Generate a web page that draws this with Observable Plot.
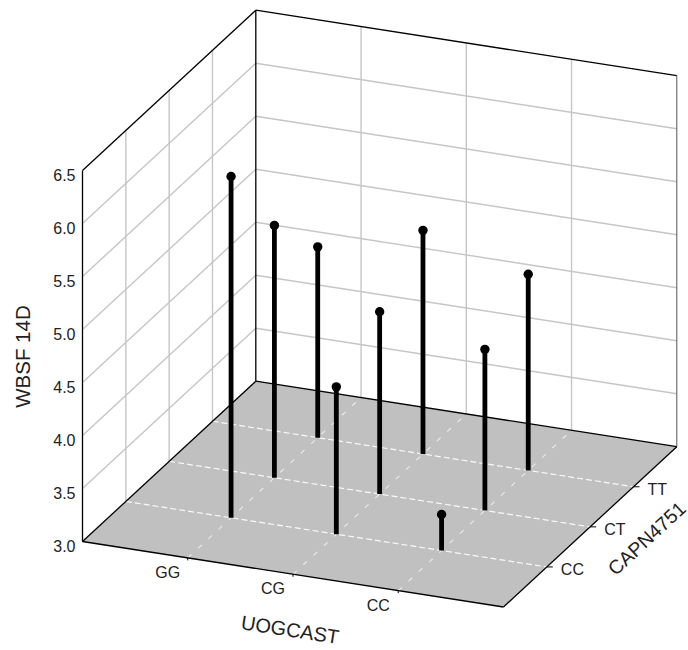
<!DOCTYPE html>
<html>
<head>
<meta charset="utf-8">
<script src="https://cdn.jsdelivr.net/npm/d3@7"></script>
<script src="https://cdn.jsdelivr.net/npm/@observablehq/plot@0.6"></script>
<style>html,body{margin:0;padding:0;background:#fff}</style>
</head>
<body>
<div id="chart"></div>
<script>
const uogcast = ["GG", "CG", "CC"];
const capn = ["CC", "CT", "TT"];
const wbsfTicks = [3.0, 3.5, 4.0, 4.5, 5.0, 5.5, 6.0, 6.5];
const wbsfGG = [6.22, 5.38, 4.80];
const wbsfCG = [4.39, 4.72, 5.11];
const wbsfCC = [3.34, 4.52, 4.85];
const wbsf = [wbsfGG, wbsfCG, wbsfCC];

// Oblique projection of the box: categories sit at 1,2,3 on a 0..4 axis
const origin = [82, 541];
const castDir = [421, 65.5];
const capnDir = [173.3, -160.3];
const zUnit = 106;
const zMin = 3, zMax = 6.5, cMax = 4;
const px = (u, v) => origin[0] + (u / cMax) * castDir[0] + (v / cMax) * capnDir[0];
const py = (u, v, z) => origin[1] + (u / cMax) * castDir[1] + (v / cMax) * capnDir[1] - (z - zMin) * zUnit;
const seg = (a, b) => ({
  x1: px(a[0], a[1]), y1: py(a[0], a[1], a[2]),
  x2: px(b[0], b[1]), y2: py(b[0], b[1], b[2])
});
const lnk = (data, o) => Plot.link(data, {x1: "x1", y1: "y1", x2: "x2", y2: "y2", ...o});

const catIdx = [1, 2, 3];
const wallGrid = [
  ...wbsfTicks.slice(1, -1).flatMap(z => [seg([0, 0, z], [0, cMax, z]), seg([0, cMax, z], [cMax, cMax, z])]),
  ...catIdx.flatMap(i => [seg([0, i, zMin], [0, i, zMax]), seg([i, cMax, zMin], [i, cMax, zMax])])
];
const wallEdges = [
  seg([0, 0, zMin], [0, 0, zMax]),
  seg([0, 0, zMax], [0, cMax, zMax]),
  seg([0, cMax, zMin], [0, cMax, zMax]),
  seg([0, cMax, zMax], [cMax, cMax, zMax])
];
const farEdge = [seg([cMax, cMax, zMin], [cMax, cMax, zMax])];
const floorPoly = [[0, 0], [cMax, 0], [cMax, cMax], [0, cMax], [0, 0]]
  .map(([u, v]) => ({x: px(u, v), y: py(u, v, zMin)}));
const floorAlongCast = catIdx.map(j => seg([0, j, zMin], [cMax, j, zMin]));
const floorAlongCapn = catIdx.map(i => seg([i, 0, zMin], [i, cMax, zMin]));
const floorEdges = [
  seg([0, 0, zMin], [cMax, 0, zMin]),
  seg([cMax, 0, zMin], [cMax, cMax, zMin]),
  seg([cMax, cMax, zMin], [0, cMax, zMin]),
  seg([0, cMax, zMin], [0, 0, zMin])
];
const stems = uogcast.flatMap((c, i) => capn.map((k, j) => ({
  ...seg([i + 1, j + 1, zMin], [i + 1, j + 1, wbsf[i][j]]),
  cast: c, capn: k, value: wbsf[i][j]
})));
const capnTicks = capn.map((k, j) => {
  const x = px(cMax, j + 1), y = py(cMax, j + 1, zMin);
  return {label: k, x1: x, y1: y, x2: x + 6, y2: y, x, y};
});
const castTicks = uogcast.map((c, i) => {
  const x = px(i + 1, 0), y = py(i + 1, 0, zMin);
  return {label: c, x1: x, y1: y, x2: x, y2: y + 2.5, x, y};
});
const zLabels = wbsfTicks.map(z => ({label: z.toFixed(1), x: px(0, 0), y: py(0, 0, z), z}));
const font = "'Liberation Sans', Arial, sans-serif";

const chart = Plot.plot({
  width: 688, height: 650,
  marginTop: 0, marginRight: 0, marginBottom: 0, marginLeft: 0,
  x: {domain: [0, 688], range: [0, 688], axis: null},
  y: {domain: [0, 650], range: [0, 650], axis: null},
  style: {background: "#fff", fontFamily: font},
  marks: [
    lnk(wallGrid, {stroke: "#c6c6c6", strokeWidth: 1.4}),
    lnk(wallEdges, {stroke: "#000", strokeWidth: 1.3}),
    lnk(farEdge, {stroke: "#555", strokeWidth: 1}),
    Plot.line(floorPoly, {x: "x", y: "y", fill: "#c0c0c0", stroke: "none"}),
    lnk(floorAlongCast, {stroke: "#fff", strokeOpacity: 0.9, strokeWidth: 1.2, strokeDasharray: "6,3"}),
    lnk(floorAlongCapn, {stroke: "#fff", strokeOpacity: 0.7, strokeWidth: 1.1, strokeDasharray: "5,9"}),
    lnk(floorEdges, {stroke: "#000", strokeWidth: 1.3}),
    lnk(capnTicks, {stroke: "#000", strokeWidth: 1}),
    lnk(castTicks, {stroke: "#000", strokeWidth: 1}),
    lnk(stems, {stroke: "#000", strokeWidth: 4.8}),
    Plot.dot(stems, {x: "x2", y: "y2", r: 4.7, fill: "#000", stroke: "none"}),
    Plot.text(zLabels, {x: "x", y: "y", text: "label", textAnchor: "end", dx: -7, dy: 5.5, fontSize: 16, fill: "#222"}),
    Plot.text(castTicks, {x: "x", y: "y", text: "label", dx: -20, dy: 15, fontSize: 16, fill: "#222"}),
    Plot.text(capnTicks, {x: "x", y: "y", text: "label", textAnchor: "start", dx: 14, dy: 3, fontSize: 16, fill: "#222"}),
    Plot.text(["WBSF 14D"], {x: px(0, 0), y: py(0, 0, 4.745), text: d => d, rotate: -90, dx: -59.5, fontSize: 20.5, fill: "#222"}),
    Plot.text(["UOGCAST"], {x: px(2, 0), y: py(2, 0, zMin), text: d => d, rotate: 8.8, dx: -3, dy: 56, fontSize: 20, fill: "#222"}),
    Plot.text(["CAPN4751"], {x: px(cMax, 2), y: py(cMax, 2, zMin), text: d => d, rotate: -42.7, dx: 57, dy: 12, fontSize: 19.5, fill: "#222"})
  ]
});
document.getElementById("chart").append(chart);
</script>
</body>
</html>
